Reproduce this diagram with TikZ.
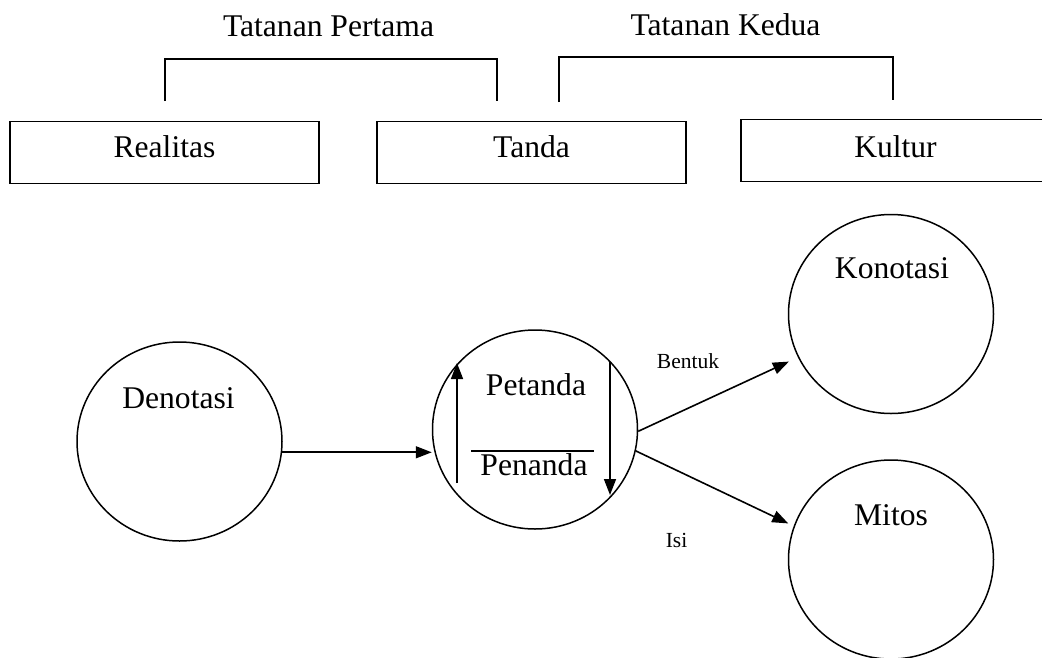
\documentclass[tikz,border=0pt]{standalone}
\usepackage{fontspec}
\setmainfont{Liberation Serif}
\usetikzlibrary{arrows.meta,shapes.geometric}
\begin{document}
\begin{tikzpicture}[x=1pt,y=-1pt,
  big/.style={font=\fontsize{31.6}{36}\selectfont},
  small/.style={font=\fontsize{21.5}{25}\selectfont},
  txt/.style={big, inner sep=0, anchor=base},
  stxt/.style={small, inner sep=0, anchor=base},
  boxnode/.style={draw, line width=1.8pt, minimum width=309pt, minimum height=62pt, inner sep=0, big, text height=21pt, text depth=12pt},
  circ/.style={draw, ellipse, line width=1.5pt, minimum width=205pt, minimum height=199pt, inner sep=0},
  conn/.style={line width=1.8pt},
  inner/.style={line width=1.5pt},
  arr/.style={line width=1.6pt, -{Triangle[length=16pt,width=12pt]}}
]
\path[use as bounding box] (0,0) rectangle (1042,657);
\clip (0,0) rectangle (1042,657);

% headings
\node[txt] (tp) at (328.5,36) {Tatanan Pertama};
\node[txt] (tk) at (725.5,35) {Tatanan Kedua};

% brackets
\coordinate (b1l) at (165,101);
\coordinate (b1r) at (497,101);
\coordinate (b2l) at (559,102);
\coordinate (b2r) at (893,100);
\draw[conn] (b1l) -- (165,59) -- (497,59) -- (b1r);
\draw[conn] (b2l) -- (559,57) -- (893,57) -- (b2r);

% boxes
\node[boxnode] (realitas) at (164.5,152.5) {Realitas};
\node[boxnode] (tanda) at (531.5,152.5) {Tanda};
\node[boxnode, text depth=8pt] (kultur) at (895.5,150.5) {Kultur};

% circles
\node[circ] (den) at (179.5,441.5) {};
\node[circ] (ctr) at (535,429.5) {};
\node[circ] (kon) at (891,314) {};
\node[circ] (mit) at (891,559.5) {};

% circle labels
\node[txt] (denl) at (178.5,408) {Denotasi};
\node[txt] (konl) at (892,278) {Konotasi};
\node[txt] (mitl) at (891,525) {Mitos};
\node[txt] (pet) at (536,395) {Petanda};
\node[txt] (pen) at (534,475) {Penanda};

% inside the sign circle
\coordinate (ua) at (457,483);
\coordinate (ub) at (457,363);
\coordinate (da) at (610,362);
\coordinate (db) at (610,495);
\coordinate (la) at (471,451);
\coordinate (lb) at (594,451);
\draw[arr] (ua) -- (ub);
\draw[arr] (da) -- (db);
\draw[inner] (la) -- (lb);

% connectors
\draw[arr] (den.-6) -- (den.-6 -| ctr.west);
\draw[arr, shorten >=10pt] (ctr.-1) -- (kon.205.4);
\draw[arr, shorten >=6pt] (ctr.-12) -- (mit.161.5);

% connector labels
\node[stxt] (bentuk) at (688,368) {Bentuk};
\node[stxt] (isi) at (676.5,547) {Isi};
\end{tikzpicture}
\end{document}
